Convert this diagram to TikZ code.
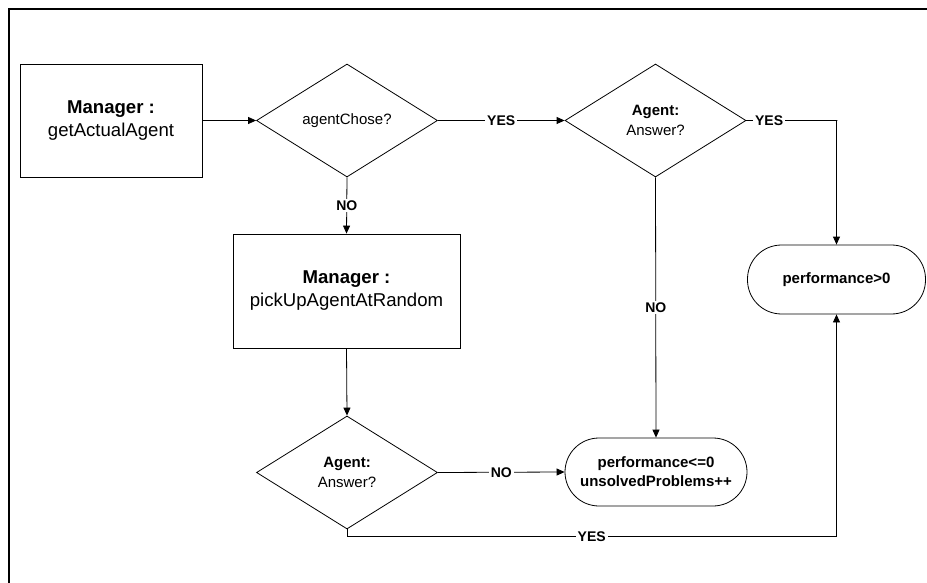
\documentclass[tikz,border=0pt]{standalone}
\usepackage{fontspec}
\setmainfont{Liberation Sans}
\usetikzlibrary{shapes.geometric,arrows.meta}
\begin{document}
\begin{tikzpicture}[x=1pt,y=-1pt,
  line width=0.8pt,
  box/.style={draw, minimum width=182pt, minimum height=113pt, align=center, inner sep=0pt,
    font=\fontsize{18.6}{23}\selectfont},
  dec/.style={draw, diamond, minimum width=181pt, minimum height=113pt, inner sep=0pt, align=center,
    font=\fontsize{15}{20}\selectfont},
  term/.style={draw, rounded corners=34pt, minimum width=180pt, minimum height=68pt, inner sep=0pt,
    align=center, font=\bfseries\fontsize{15}{19}\selectfont},
  lbl/.style={fill=white, inner sep=2pt, font=\bfseries\fontsize{14}{16}\selectfont},
  arr/.style={-{Triangle[length=8pt,width=7pt]}}
]
\useasboundingbox (0,0) rectangle (927,583);
\draw[line width=2.6pt] (9,584) -- (9,9) -- (928,9);

\node[box] (m1) at (111,120.5) {\textbf{Manager :}\\getActualAgent};
\node[dec] (d1) at (347,120.5) {agentChose?};
\node[dec] (d2) at (655.5,120.5) {\textbf{Agent:}\\Answer?};
\node[box, minimum width=227pt, minimum height=114pt] (m2) at (346.5,291) {\textbf{Manager :}\\pickUpAgentAtRandom};
\node[dec] (d3) at (347,472.5) {\textbf{Agent:}\\Answer?};
\node[term, minimum width=178pt, minimum height=69pt] (p1) at (836.5,279.5) {performance>0};
\node[term, minimum width=182pt] (p2) at (656,472) {performance<=0\\unsolvedProblems++};

\draw[arr] (m1.east) -- (d1.west);
\draw[arr] (d1.east) -- node[lbl] {YES} (d2.west);
\draw[arr] (d2.east) -- node[lbl, pos=0.25] {YES} ++(91,0) -| (p1.north);
\draw[arr] (d1.south) -- node[lbl] {NO} (m2.north);
\draw[arr] (d2.south) -- node[lbl] {NO} (p2.north);
\draw[arr] (m2.south) -- (d3.north);
\draw[arr] (d3.east) -- node[lbl] {NO} (p2.west);
\draw[arr] (d3.south) -- ++(0,7) -| node[lbl, pos=0.25] {YES} (p1.south);
\end{tikzpicture}
\end{document}
